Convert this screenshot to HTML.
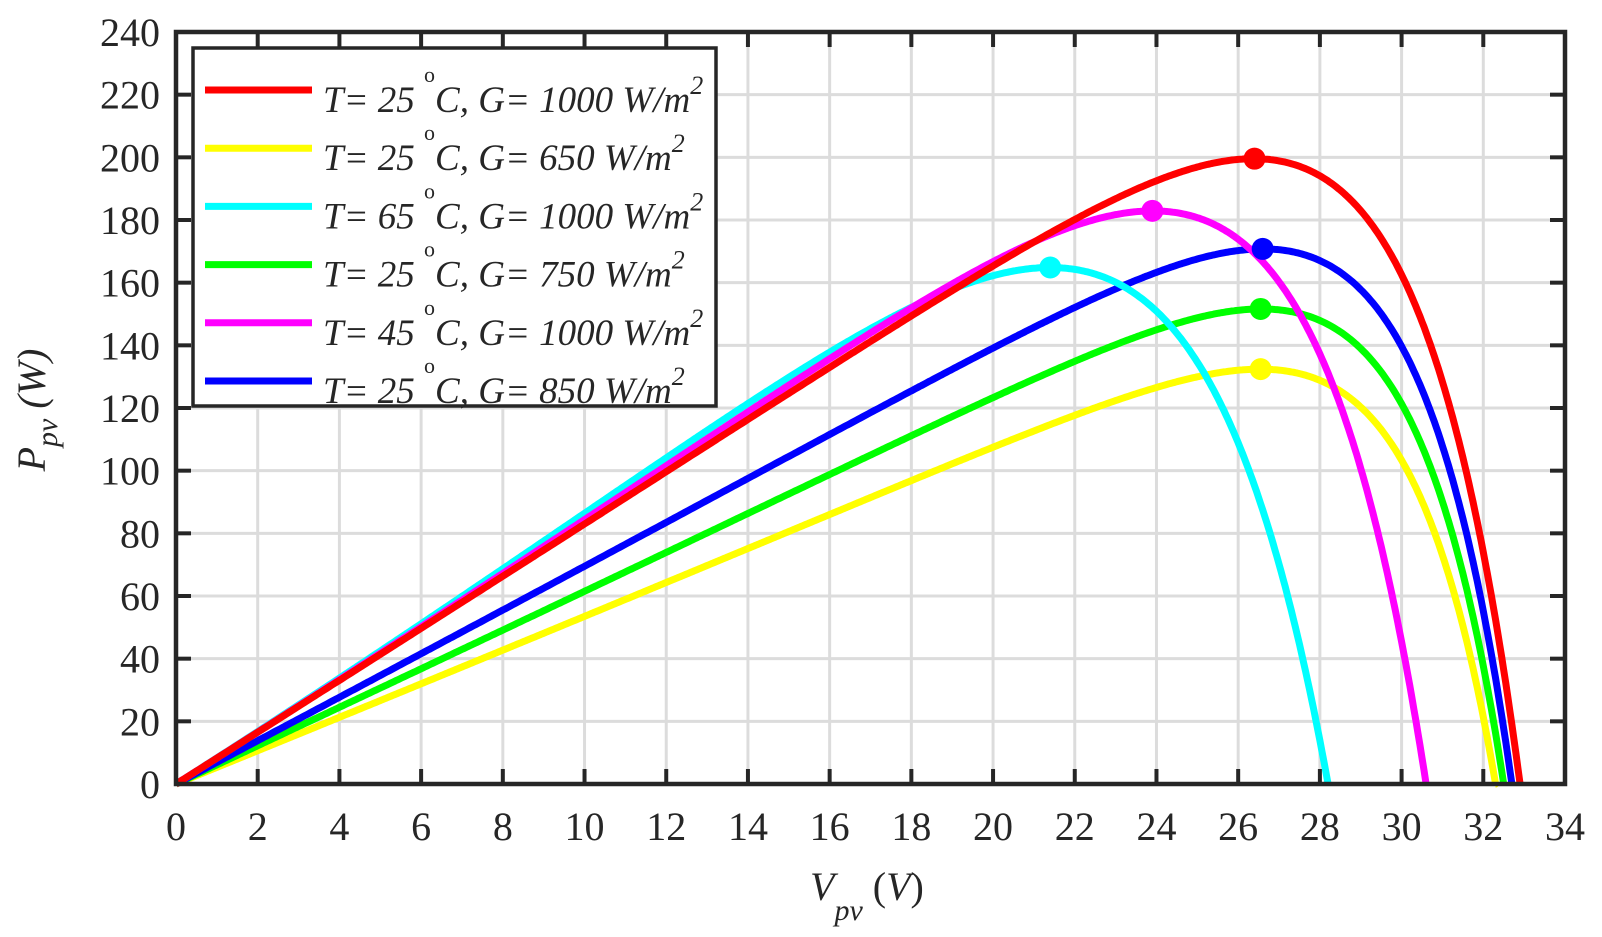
<!DOCTYPE html>
<html><head><meta charset="utf-8"><style>
html,body{margin:0;padding:0;background:#fff;}
svg{display:block;}
text{font-family:"Liberation Serif",serif;fill:#262626;}
</style></head><body>
<svg id="s" width="1602" height="937" xmlns="http://www.w3.org/2000/svg">
<g id="grid"></g>
<g id="curves"></g>
<g id="axes"></g>
<g id="legend">
<rect x="193" y="48" width="523" height="358" fill="#fff" stroke="#262626" stroke-width="3.5"/>
</g>
<text x="45" y="410" transform="rotate(-90 45 410)" text-anchor="middle" font-size="40" font-style="italic">P<tspan font-size="30" dy="12">pv</tspan><tspan dy="-12"> (W)</tspan></text>
<text x="810" y="900" font-size="40" font-style="italic">V<tspan font-size="30" dy="20">pv</tspan><tspan dy="-20" font-style="normal"> (</tspan>V<tspan font-style="normal">)</tspan></text>
</svg>
<script>
const NS="http://www.w3.org/2000/svg";
const X0=176,X1=1565,Y0=784,Y1=32;
const sx=v=>X0+(X1-X0)*v/34, sy=p=>Y0-(Y0-Y1)*p/240;
function el(t,a,p,txt){const e=document.createElementNS(NS,t);for(const k in a)e.setAttribute(k,a[k]);if(txt!==undefined)e.textContent=txt;p.appendChild(e);return e;}
const g=document.getElementById('grid'),ax=document.getElementById('axes'),cv=document.getElementById('curves'),lg=document.getElementById('legend');
for(let v=2;v<34;v+=2)el('line',{x1:sx(v),x2:sx(v),y1:Y0,y2:Y1,stroke:'#dcdcdc','stroke-width':3},g);
for(let p=20;p<240;p+=20)el('line',{x1:X0,x2:X1,y1:sy(p),y2:sy(p),stroke:'#dcdcdc','stroke-width':3},g);
for(let v=0;v<=34;v+=2){
 if(v>0&&v<34){el('line',{x1:sx(v),x2:sx(v),y1:Y0,y2:Y0-15,stroke:'#262626','stroke-width':4},ax);el('line',{x1:sx(v),x2:sx(v),y1:Y1,y2:Y1+15,stroke:'#262626','stroke-width':4},ax);}
 el('text',{x:sx(v),y:840,'font-size':40,'text-anchor':'middle'},ax,v);
}
for(let p=0;p<=240;p+=20){
 if(p>0&&p<240){el('line',{x1:X0,x2:X0+15,y1:sy(p),y2:sy(p),stroke:'#262626','stroke-width':4},ax);el('line',{x1:X1,x2:X1-15,y1:sy(p),y2:sy(p),stroke:'#262626','stroke-width':4},ax);}
 el('text',{x:160,y:sy(p)+14,'font-size':40,'text-anchor':'end'},ax,p);
}
el('rect',{x:X0,y:Y1,width:X1-X0,height:Y0-Y1,fill:'none',stroke:'#262626','stroke-width':4.5},ax);
// color, Isc, Voc, Vm, Pm, T, G
const C=[
 ['#ff0000',8.25,32.9,26.3,200,'25','1000'],
 ['#ffff00',5.3,32.3,26.4,132,'25','650'],
 ['#00ffff',8.3,28.2,21.5,165,'65','1000'],
 ['#00ff00',6.1,32.5,26.5,152,'25','750'],
 ['#ff00ff',8.25,30.6,23.9,183,'45','1000'],
 ['#0000ff',6.9,32.7,26.6,171,'25','850'],
];
function mkP(Isc,Voc,a,gg){const I0=1/(1-Math.exp(-Voc/a));return v=>v*(Isc-gg*v)*I0*(1-Math.exp((v-Voc)/a));}
function peak(P,Voc){let b=[0,0];for(let v=0;v<=Voc;v+=0.05){const p=P(v);if(p>b[1])b=[v,p];}return b;}
C.forEach(c=>{
 const [col,Isc,Voc,Vm,Pm]=c;
 let best=null,be=1e9;
 for(let a=0.3;a<=5;a+=0.1){for(let gg=-0.05;gg<=0.1;gg+=0.005){
   const P=mkP(Isc,Voc,a,gg);const pk=peak(P,Voc);
   const e=Math.pow((pk[0]-Vm)*5,2)+Math.pow(pk[1]-Pm,2);
   if(e<be){be=e;best=[a,gg];}
 }}
 const P=mkP(Isc,Voc,best[0],best[1]);
 let d='';let pk=[0,0];
 for(let v=0;v<=Voc+1e-9;v+=0.05){const p=Math.max(0,P(v));d+=(d?'L':'M')+sx(v).toFixed(1)+','+sy(p).toFixed(1);if(p>pk[1])pk=[v,p];}
 d+='L'+sx(Voc).toFixed(1)+','+sy(0).toFixed(1);
 c.push(d,pk);
});
[1,3,5,2,4,0].forEach(i=>{const c=C[i];el('path',{d:c[7],fill:'none',stroke:c[0],'stroke-width':7,'stroke-linejoin':'round'},cv);});
C.forEach(c=>{el('circle',{cx:sx(c[8][0]),cy:sy(c[8][1]),r:11,fill:c[0]},cv);});
C.forEach((c,i)=>{
 const y=90+i*58.2;
 el('line',{x1:205,x2:312,y1:y,y2:y,stroke:c[0],'stroke-width':7},lg);
 const t=el('text',{x:323,y:y+22,'font-size':37,'font-style':'italic'},lg);
 t.innerHTML='T= '+c[5]+' <tspan font-size="22" dy="-30" font-style="normal">o</tspan><tspan dy="30">C, G= '+c[6]+' W/m</tspan><tspan font-size="26" dy="-18">2</tspan>';
});
</script>
</body></html>
